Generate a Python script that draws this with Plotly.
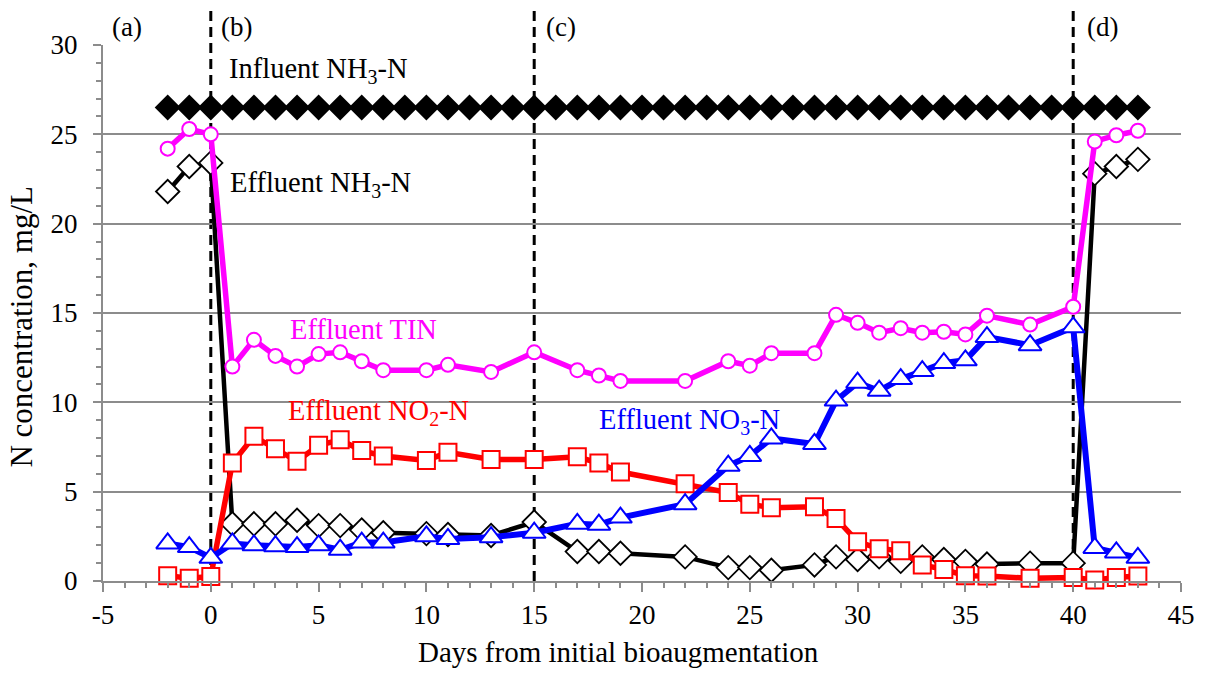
import plotly.graph_objects as go

# ---------------- data ----------------
days_inf = [-2, -1, 0, 1, 2, 3, 4, 5, 6, 7, 8, 9, 10, 11, 12, 13, 14, 15, 16, 17, 18, 19, 20,
            21, 22, 23, 24, 25, 26, 27, 28, 29, 30, 31, 32, 33, 34, 35, 36, 37, 38, 39, 40,
            41, 42, 43]
influent_nh3 = [26.5, 26.5, 26.5, 26.5, 26.5, 26.5, 26.5, 26.5, 26.5, 26.5, 26.5, 26.5, 26.5,
                26.5, 26.5, 26.5, 26.5, 26.5, 26.5, 26.5, 26.5, 26.5, 26.5, 26.5, 26.5, 26.5,
                26.5, 26.5, 26.5, 26.5, 26.5, 26.5, 26.5, 26.5, 26.5, 26.5, 26.5, 26.5, 26.5,
                26.5, 26.5, 26.5, 26.5, 26.5, 26.5, 26.5]

days = [-2, -1, 0, 1, 2, 3, 4, 5, 6, 7, 8, 10, 11, 13, 15, 17, 18, 19, 22, 24, 25, 26, 28,
        29, 30, 31, 32, 33, 34, 35, 36, 38, 40, 41, 42, 43]
effluent_nh3 = [21.8, 23.2, 23.4, 3.2, 3.2, 3.2, 3.4, 3.1, 3.1, 2.85, 2.7, 2.65, 2.6, 2.55, 3.3,
                1.65, 1.65, 1.55, 1.35, 0.75, 0.75, 0.6, 0.9, 1.35, 1.2, 1.35, 1.1, 1.35, 1.2,
                1.1, 0.95, 1.0, 1.0, 22.8, 23.2, 23.6]
effluent_no2 = [0.3, 0.15, 0.25, 6.6, 8.1, 7.4, 6.7, 7.6, 7.9, 7.3, 7.0, 6.75, 7.2, 6.8, 6.8,
                6.95, 6.6, 6.1, 5.45, 4.95, 4.3, 4.1, 4.15, 3.5, 2.2, 1.8, 1.7, 0.9, 0.65, 0.3,
                0.28, 0.15, 0.2, 0.06, 0.2, 0.28]
effluent_no3 = [2.1, 1.9, 1.3, 2.1, 2.0, 1.95, 1.9, 2.0, 1.75, 2.15, 2.15, 2.5, 2.35, 2.45, 2.7,
                3.2, 3.15, 3.55, 4.3, 6.45, 7.0, 7.98, 7.67, 10.1, 11.1, 10.65, 11.3, 11.75,
                12.2, 12.35, 13.65, 13.2, 14.2, 1.85, 1.6, 1.3]
effluent_tin = [24.2, 25.3, 25.0, 12.0, 13.5, 12.6, 12.0, 12.7, 12.8, 12.3, 11.8, 11.8, 12.1,
                11.7, 12.8, 11.8, 11.5, 11.2, 11.2, 12.3, 12.05, 12.75, 12.75, 14.9, 14.45,
                13.9, 14.15, 13.9, 13.95, 13.8, 14.85, 14.35, 15.35, 24.6, 24.95, 25.2]

x_tickvals = [-5, 0, 5, 10, 15, 20, 25, 30, 35, 40, 45]
x_ticktext = ["-5", "0", "5", "10", "15", "20", "25", "30", "35", "40", "45"]
y_tickvals = [0, 5, 10, 15, 20, 25, 30]
y_ticktext = ["0", "5", "10", "15", "20", "25", "30"]

phase_days = [0, 15, 40]
phase_labels = ["(a)", "(b)", "(c)", "(d)"]
phase_label_x = [-3.9, 1.2, 16.25, 41.35]

series_labels = ["Influent NH<sub>3</sub>-N", "Effluent NH<sub>3</sub>-N", "Effluent TIN",
                 "Effluent NO<sub>2</sub>-N", "Effluent NO<sub>3</sub>-N"]
series_label_x = [5.0, 5.1, 7.1, 7.8, 22.2]
series_label_y = [28.6, 22.2, 14.05, 9.45, 8.9]
series_label_colors = ["black", "black", "#FF00FF", "#FF0000", "#0000FF"]

x_title = "Days from initial bioaugmentation"
y_title = "N concentration, mg/L"

# ---------------- figure ----------------
FONT = "Liberation Serif"
fig = go.Figure()

fig.add_trace(go.Scatter(
    x=days_inf, y=influent_nh3, mode="lines+markers",
    line=dict(color="#8A72B0", width=1.2),
    marker=dict(symbol="diamond", size=20, color="black", line=dict(color="black", width=0)),
    showlegend=False, cliponaxis=False))

fig.add_trace(go.Scatter(
    x=days, y=effluent_nh3, mode="lines+markers",
    line=dict(color="black", width=4.5),
    marker=dict(symbol="diamond", size=18, color="white", line=dict(color="black", width=1.8)),
    showlegend=False, cliponaxis=False))

fig.add_trace(go.Scatter(
    x=days, y=effluent_no2, mode="lines+markers",
    line=dict(color="#FF0000", width=5.5),
    marker=dict(symbol="square", size=17, color="white", line=dict(color="#FF0000", width=2)),
    showlegend=False, cliponaxis=False))

fig.add_trace(go.Scatter(
    x=days, y=effluent_no3, mode="lines+markers",
    line=dict(color="#0000FF", width=6),
    marker=dict(symbol="triangle-up", size=20, color="white", line=dict(color="#0000FF", width=2)),
    showlegend=False, cliponaxis=False))

fig.add_trace(go.Scatter(
    x=days, y=effluent_tin, mode="lines+markers",
    line=dict(color="#FF00FF", width=5.5),
    marker=dict(symbol="circle", size=14, color="white", line=dict(color="#FF00FF", width=2)),
    showlegend=False, cliponaxis=False))

# dashed phase separators
for d in phase_days:
    fig.add_shape(type="line", xref="x", yref="paper", x0=d, x1=d, y0=0, y1=1.066,
                  line=dict(color="black", width=3, dash="10px,6px"), layer="below")

for lx, lt in zip(phase_label_x, phase_labels):
    fig.add_annotation(x=lx, y=1.034, xref="x", yref="paper", text=lt, showarrow=False,
                       xanchor="center", yanchor="middle",
                       font=dict(family=FONT, size=27, color="black"))

for lx, ly, lt, lc in zip(series_label_x, series_label_y, series_labels, series_label_colors):
    fig.add_annotation(x=lx, y=ly, xref="x", yref="y", text=lt, showarrow=False,
                       xanchor="center", yanchor="middle",
                       font=dict(family=FONT, size=28.5, color=lc))

# axis titles (placed as in the reference)
fig.add_annotation(x=0.478, y=-0.132, xref="paper", yref="paper", text=x_title,
                   showarrow=False, xanchor="center", yanchor="middle",
                   font=dict(family=FONT, size=29, color="black"))
fig.add_annotation(x=-0.0755, y=0.474, xref="paper", yref="paper", text=y_title,
                   showarrow=False, xanchor="center", yanchor="middle", textangle=-90,
                   font=dict(family=FONT, size=31, color="black"))

GRAY = "#8C8C8C"
fig.update_layout(
    width=1207, height=673,
    margin=dict(l=103, r=21, t=45, b=92),
    paper_bgcolor="white", plot_bgcolor="white",
    font=dict(family=FONT, size=27, color="black"),
    xaxis=dict(
        range=[-5, 45], tickmode="array", tickvals=x_tickvals, ticktext=x_ticktext,
        showgrid=False, zeroline=False,
        showline=True, linecolor=GRAY, linewidth=2,
        ticks="outside", ticklen=9, tickwidth=2, tickcolor=GRAY,
        minor=dict(ticks="outside", dtick=1, tick0=0, ticklen=5, tickwidth=1.5, tickcolor=GRAY),
        tickfont=dict(family=FONT, size=27, color="black"),
    ),
    yaxis=dict(
        range=[0, 30], tickmode="array", tickvals=y_tickvals, ticktext=y_ticktext,
        showgrid=True, gridcolor=GRAY, gridwidth=1.5, zeroline=False,
        showline=True, linecolor=GRAY, linewidth=2,
        ticks="outside", ticklen=8, tickwidth=2, tickcolor=GRAY,
        minor=dict(ticks="outside", dtick=1, tick0=0, ticklen=5, tickwidth=1.5, tickcolor=GRAY,
                   showgrid=False),
        tickfont=dict(family=FONT, size=27, color="black"),
        ticklabelstandoff=10,
    ),
)

fig.write_html("out.html")
